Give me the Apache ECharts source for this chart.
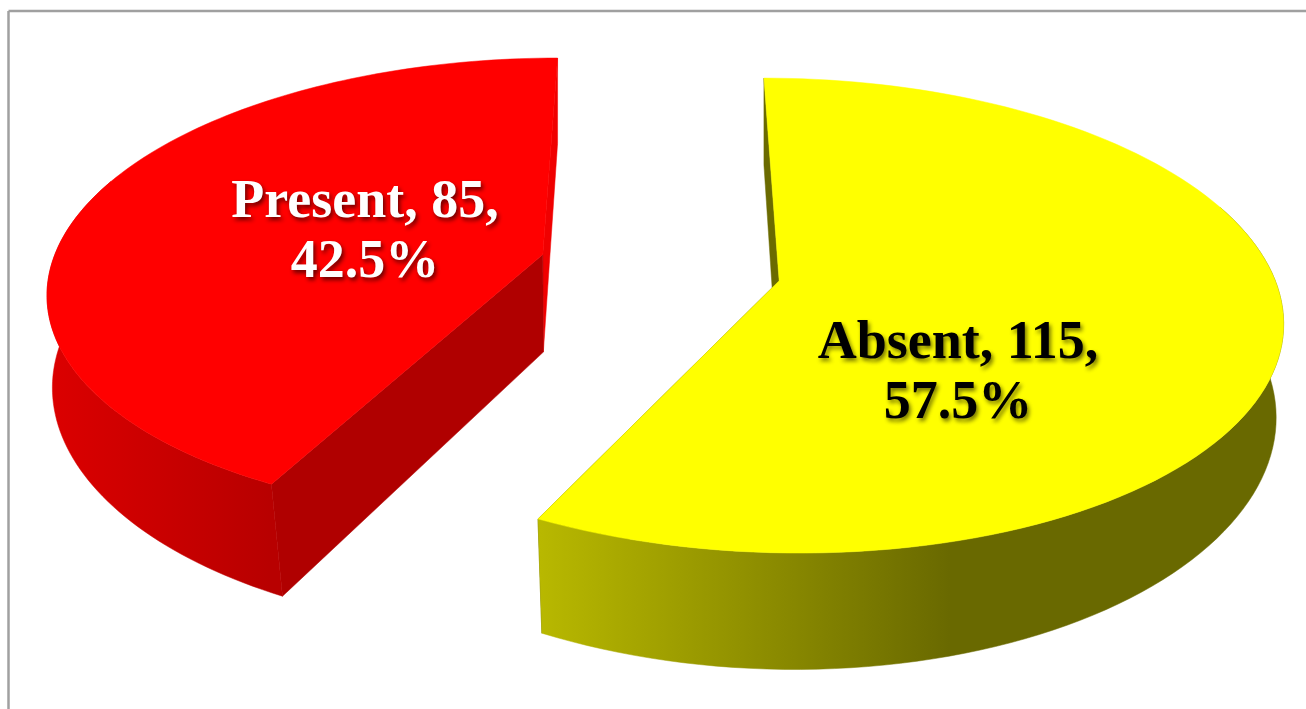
<!DOCTYPE html>
<html>
<head>
<meta charset="utf-8">
<style>html,body{margin:0;padding:0;background:#fff}#chart{width:1306px;height:709px}</style>
<script src="https://cdn.jsdelivr.net/npm/echarts@6/dist/echarts.min.js"></script>
</head>
<body>
<div id="chart"></div>
<script>
// Survey counts shown on the exploded pie.
const categories = ['Absent', 'Present'];
const counts = [115, 85];

// Camera and solid: world radius is 1, the plane tilts away from the viewer.
const view = {
  vx: 660, vy: 267.5, a: 492, b: 228.5, k: 0.1453,
  depth: 98.5, taperBase: 0.006, taperNear: 0.027, explode: 0.247
};
const labelCentres = [[958, 374], [365, 233]];
const looks = [
  {
    top: '#ffff00', text: '#000000', shadow: 'rgba(70,70,0,0.75)', startFace: '#6b6b00', endFace: '#6b6b00',
    side: [[540, '#b8b800'], [950, '#696900']]
  },
  {
    top: '#ff0000', text: '#ffffff', shadow: 'rgba(90,0,0,0.9)', startFace: '#b00000', endFace: '#f00000',
    side: [[46, '#dc0000'], [270, '#b80000']]
  }
];

const total = counts.reduce((s, v) => s + v, 0);

// World point on the pie plane -> screen position, with optional drop to the base.
// The base pulls inward more for points nearer the viewer.
function project(wx, wy, lower) {
  const s = 1 / (1 + view.k * wy);
  const x = view.vx + view.a * wx * s;
  const y = view.vy - view.b * wy * s;
  if (!lower) return [x, y];
  const taper = Math.max(0, view.taperBase - view.taperNear * wy);
  return [view.vx + (x - view.vx) * (1 - taper), y + view.depth * s];
}

function renderSlice(params, api) {
  const i = params.dataIndex;
  const before = counts.slice(0, i).reduce((s, v) => s + v, 0);
  const from = (before / total) * 2 * Math.PI;
  const to = ((before + api.value(1)) / total) * 2 * Math.PI;
  const mid = (from + to) / 2;
  const ox = view.explode * Math.sin(mid);
  const oy = view.explode * Math.cos(mid);
  const rim = (t, lower) => project(ox + Math.sin(t), oy + Math.cos(t), lower);
  const look = looks[i];

  const steps = 120;
  const angles = [];
  for (let n = 0; n <= steps; n++) angles.push(from + ((to - from) * n) / steps);

  const apexTop = project(ox, oy, false);
  const apexLow = project(ox, oy, true);
  const front = angles.filter((t) => Math.cos(t) < 0.35);
  const stops = look.side;
  const sideFill = new echarts.graphic.LinearGradient(stops[0][0], 0, stops[1][0], 0, [
    { offset: 0, color: stops[0][1] },
    { offset: 1, color: stops[1][1] }
  ], true);

  const poly = (points, fill) => ({
    type: 'polygon',
    shape: { points },
    style: { fill, stroke: fill, lineWidth: 0.5 }
  });

  const children = [
    poly([rim(to, false), apexTop, apexLow, rim(to, true)], look.endFace),
    poly([rim(from, false), apexTop, apexLow, rim(from, true)], look.startFace),
    poly(front.map((t) => rim(t, false)).concat(front.slice().reverse().map((t) => rim(t, true))), sideFill),
    poly([apexTop].concat(angles.map((t) => rim(t, false))), look.top),
    {
      type: 'text',
      style: {
        x: labelCentres[i][0],
        y: labelCentres[i][1],
        text: categories[i] + ', ' + api.value(1) + ',\n' + ((api.value(1) / total) * 100).toFixed(1) + '%',
        align: 'center',
        verticalAlign: 'middle',
        fill: look.text,
        font: 'bold 54px "Liberation Serif", serif',
        lineHeight: 60,
        textShadowColor: look.shadow,
        textShadowBlur: 4,
        textShadowOffsetX: 2,
        textShadowOffsetY: 3
      }
    }
  ];
  return { type: 'group', children };
}

const chart = echarts.init(document.getElementById('chart'));
chart.setOption({
  animation: false,
  backgroundColor: '#ffffff',
  graphic: [
    { type: 'line', shape: { x1: 8.5, y1: 11, x2: 1306, y2: 11 }, style: { stroke: '#a0a0a0', lineWidth: 2.5 } },
    { type: 'line', shape: { x1: 8.5, y1: 11, x2: 8.5, y2: 709 }, style: { stroke: '#a0a0a0', lineWidth: 2.5 } }
  ],
  series: [{
    type: 'custom',
    coordinateSystem: 'none',
    renderItem: renderSlice,
    data: categories.map((name, i) => ({ name, value: [i, counts[i]] }))
  }]
});
</script>
</body>
</html>
